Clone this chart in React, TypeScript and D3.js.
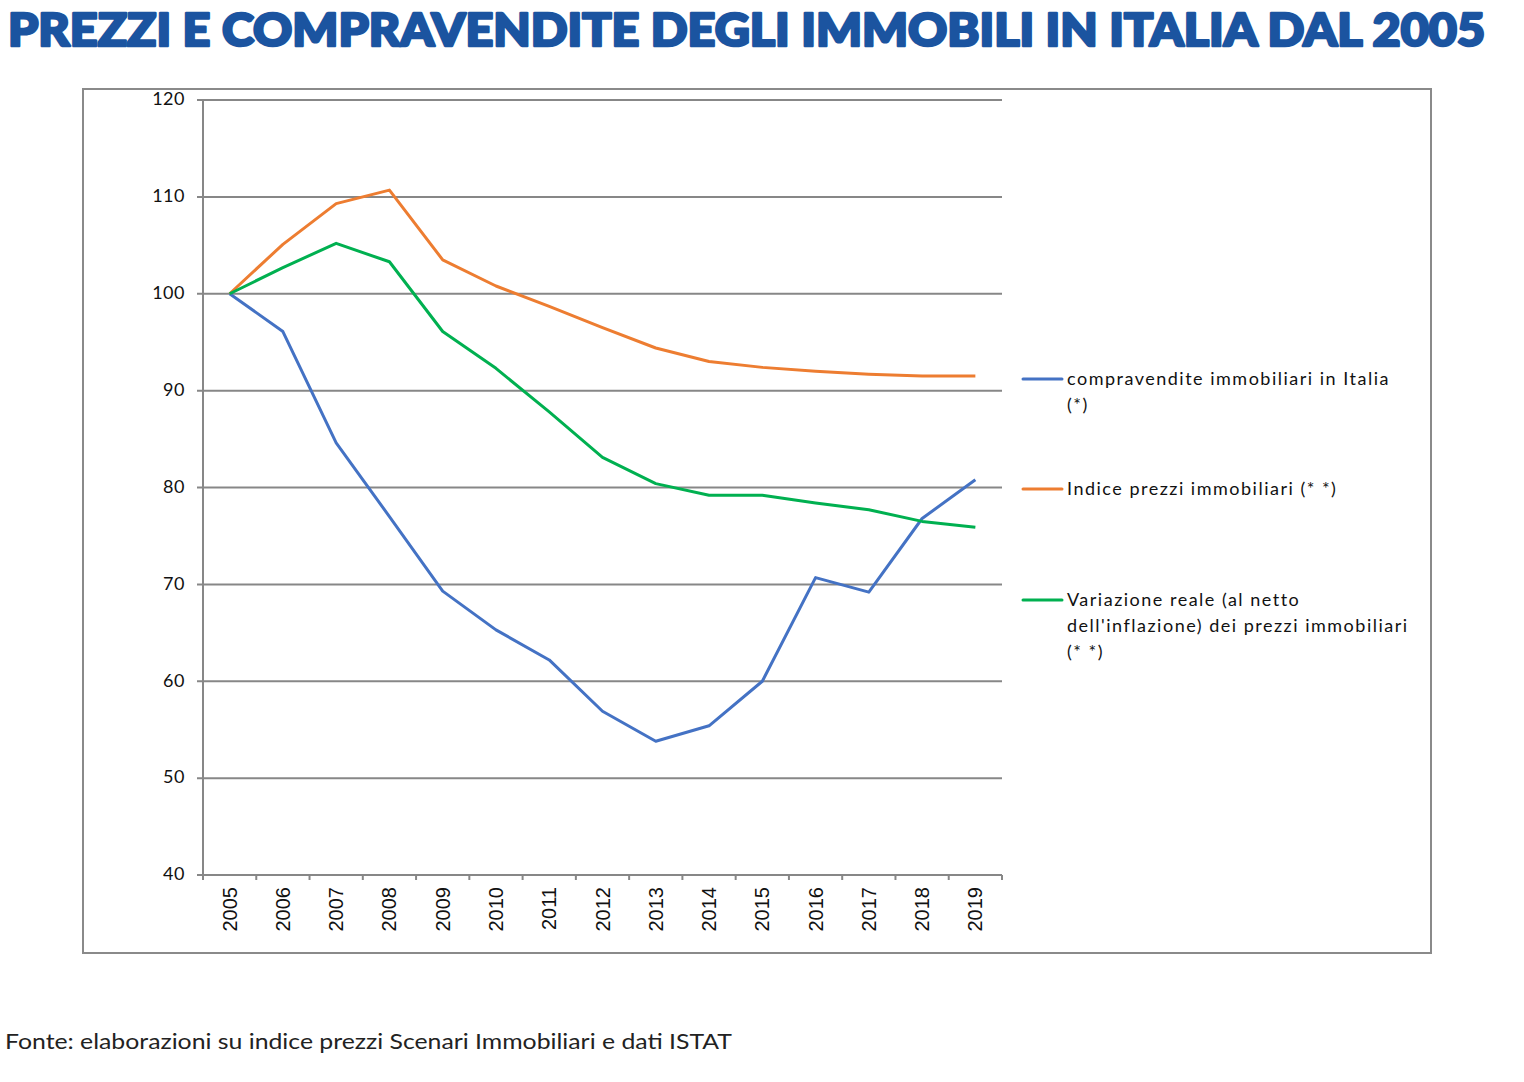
import React from "react";
import * as d3 from "d3";

const years = ["2005","2006","2007","2008","2009","2010","2011","2012","2013","2014","2015","2016","2017","2018","2019"];
const compravendite = [100, 96.1, 84.6, 77.0, 69.3, 65.3, 62.2, 56.9, 53.8, 55.4, 60.0, 70.7, 69.2, 76.8, 80.8];
const indicePrezzi = [100, 105.1, 109.3, 110.7, 103.5, 100.8, 98.7, 96.5, 94.4, 93.0, 92.4, 92.0, 91.7, 91.5, 91.5];
const variazioneReale = [100, 102.7, 105.2, 103.3, 96.1, 92.3, 87.8, 83.1, 80.4, 79.2, 79.2, 78.4, 77.7, 76.5, 75.9];
const yTicks = [40, 50, 60, 70, 80, 90, 100, 110, 120];

const seriesNames = [
  ["compravendite immobiliari in Italia", "(*)"],
  ["Indice prezzi immobiliari (* *)"],
  ["Variazione reale (al netto", "dell'inflazione) dei prezzi immobiliari", "(* *)"],
];
const seriesColors = ["#4472C4", "#ED7D31", "#00B050"];
const title = "PREZZI E COMPRAVENDITE DEGLI IMMOBILI IN ITALIA DAL 2005";
const source = "Fonte: elaborazioni su indice prezzi Scenari Immobiliari e dati ISTAT";

export default function App() {
  const left = 203, right = 1002, top = 100, bottom = 875;
  const x = d3.scaleBand<string>().domain(years).range([left, right]).padding(0);
  const y = d3.scaleLinear().domain([40, 120]).range([bottom, top]);
  const cx = (yr: string) => (x(yr) as number) + x.bandwidth() / 2;
  const line = d3.line<number>().x((_, i) => cx(years[i])).y((d) => y(d));
  const data = [compravendite, indicePrezzi, variazioneReale];
  const legendY = [379, 489, 600];
  const grid = "#878787";
  const font = "Lato, 'Open Sans', sans-serif";
  const edges = years.map((yr) => x(yr) as number).concat([right]);

  return (
    <svg width={1524} height={1082} style={{ position: "absolute", left: 0, top: 0, background: "#fff" }}>
      <text x={8} y={46} fontFamily="Lato, 'DejaVu Sans', sans-serif" fontWeight={900} fontSize={46}
        fill="#1B54A0" stroke="#1B54A0" strokeWidth={2.6} strokeLinejoin="round"
        textLength={1477} lengthAdjust="spacingAndGlyphs">{title}</text>

      <rect x={83} y={89} width={1348} height={864} fill="none" stroke="#8a8a8a" strokeWidth={2} />

      {yTicks.map((t) => (
        <g key={t}>
          <line x1={197} x2={right} y1={y(t)} y2={y(t)} stroke={grid} strokeWidth={2} />
          <text x={185} y={y(t) - 1} dy="0.1em" textAnchor="end" dominantBaseline="middle"
            fontFamily={font} fontSize={18} letterSpacing={0.5} fill="#111">{t}</text>
        </g>
      ))}
      <line x1={left} x2={left} y1={top} y2={bottom} stroke={grid} strokeWidth={2} />
      {edges.map((e, i) => (
        <line key={i} x1={e} x2={e} y1={bottom} y2={bottom + 5} stroke={grid} strokeWidth={2} />
      ))}
      {years.map((yr) => (
        <text key={yr} transform={`translate(${cx(yr) + 7},${887}) rotate(-90)`} textAnchor="end"
          fontFamily="'Liberation Sans', Arial, sans-serif" fontSize={20} fill="#111">{yr}</text>
      ))}

      {data.map((d, i) => (
        <path key={i} d={line(d) as string} fill="none" stroke={seriesColors[i]} strokeWidth={3}
          strokeLinejoin="round" />
      ))}

      {seriesNames.map((lines, i) => (
        <g key={i}>
          <line x1={1023} x2={1062} y1={legendY[i]} y2={legendY[i]} stroke={seriesColors[i]} strokeWidth={3} strokeLinecap="round" />
          {lines.map((s, j) => (
            <text key={j} x={1067} y={legendY[i] + 6 + j * 26} fontFamily={font} fontSize={18}
              letterSpacing={1.5} fill="#111">{s}</text>
          ))}
        </g>
      ))}

      <text x={5} y={1049} fontFamily={font} fontSize={21} fill="#222" textLength={727} lengthAdjust="spacingAndGlyphs">{source}</text>
    </svg>
  );
}
